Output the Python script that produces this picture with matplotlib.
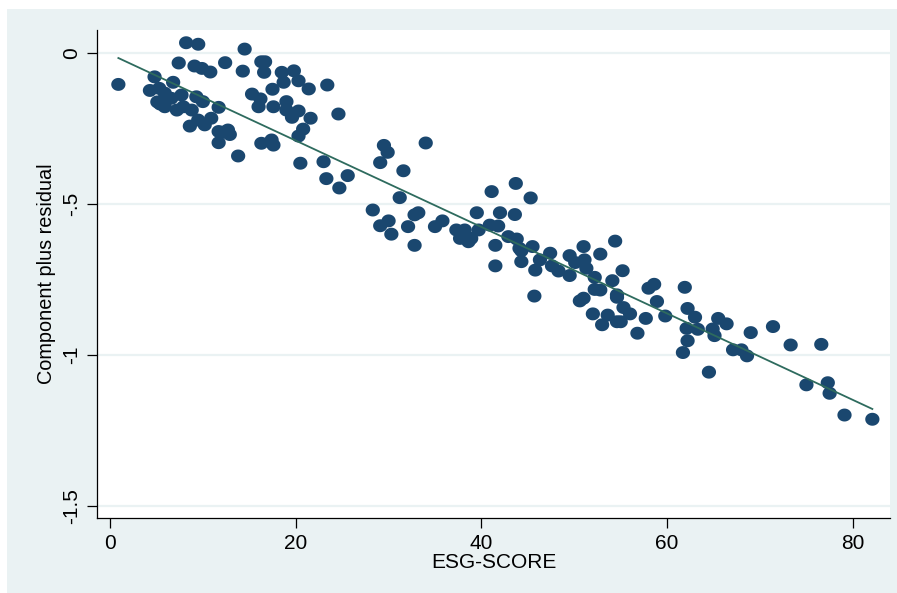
import matplotlib
matplotlib.use("Agg")
import matplotlib.pyplot as plt
from matplotlib.path import Path
import numpy as np

plt.rcParams['font.family'] = ['Liberation Sans', 'DejaVu Sans']

esg_score = [
    8.2, 9.5, 7.4, 9.1, 9.9, 10.8, 12.4, 0.9, 4.8, 6.8, 4.3, 5.3, 5.9, 6.6, 7.7,
    5.4, 5.9, 7.2, 7.9, 8.8, 9.3, 10.0, 11.7, 8.6, 9.5, 10.2, 10.9, 11.7, 12.7,
    12.9, 11.7, 13.8, 5.1, 12.2,
    14.5, 16.3, 16.7, 14.3, 16.6, 18.5, 19.8, 18.7, 20.3, 21.4, 23.4, 17.5, 15.3,
    16.2, 16.0, 17.6, 19.0, 19.0, 19.6, 20.3, 21.6, 24.6, 20.8, 20.3, 16.3, 17.4,
    17.6, 20.5, 23.0, 23.3, 25.6, 24.7,
    29.5, 29.9, 34.0, 29.1, 31.6, 31.2, 28.3, 29.1, 30.0, 30.3, 32.1, 32.8, 33.2,
    32.8, 35.0, 35.8, 37.3, 38.2, 37.7, 38.6, 38.9, 38.0, 39.5, 39.7, 41.1, 42.0,
    40.9, 41.8, 41.5, 41.5,
    43.7, 45.3, 43.6, 42.9, 43.8, 44.1, 44.3, 45.5, 44.3, 46.3, 47.4, 47.6, 48.3,
    45.8, 49.5, 50.1, 49.5, 51.0, 51.1, 51.3, 52.8, 54.4, 55.2, 52.2, 54.1, 52.2,
    52.8, 54.6, 54.6, 50.6, 51.0, 45.7, 55.3, 56.0, 52.0, 53.6, 53.0, 54.6, 55.0,
    58.0, 58.6, 61.9, 58.9, 57.7, 59.8, 56.8, 62.2, 63.0, 62.1, 63.3, 62.2, 61.7,
    65.5, 66.4, 64.9, 65.1, 64.5, 67.1, 68.0, 68.6, 69.0, 71.4,
    73.3, 76.6, 75.0, 77.3, 77.5, 79.1, 82.1,
]
cpr = [
    0.034, 0.029, -0.033, -0.043, -0.051, -0.063, -0.032, -0.104, -0.079, -0.097,
    -0.124, -0.117, -0.133, -0.150, -0.139, -0.169, -0.178, -0.189, -0.178, -0.189,
    -0.145, -0.161, -0.180, -0.242, -0.222, -0.238, -0.216, -0.260, -0.255, -0.270,
    -0.297, -0.341, -0.162, -0.262,
    0.013, -0.029, -0.029, -0.060, -0.064, -0.064, -0.059, -0.097, -0.092, -0.119,
    -0.106, -0.120, -0.136, -0.152, -0.178, -0.178, -0.161, -0.189, -0.213, -0.192,
    -0.216, -0.202, -0.252, -0.275, -0.299, -0.288, -0.305, -0.365, -0.360, -0.416,
    -0.406, -0.447,
    -0.306, -0.329, -0.298, -0.363, -0.390, -0.479, -0.520, -0.572, -0.556, -0.600,
    -0.575, -0.536, -0.529, -0.637, -0.575, -0.556, -0.586, -0.586, -0.614, -0.625,
    -0.614, -0.603, -0.529, -0.586, -0.459, -0.529, -0.570, -0.573, -0.637, -0.705,
    -0.432, -0.480, -0.535, -0.608, -0.616, -0.647, -0.655, -0.641, -0.691, -0.685,
    -0.663, -0.705, -0.722, -0.719, -0.671, -0.694, -0.737, -0.641, -0.685, -0.713,
    -0.666, -0.623, -0.721, -0.743, -0.754, -0.783, -0.785, -0.801, -0.809, -0.821,
    -0.812, -0.805, -0.843, -0.864, -0.864, -0.868, -0.900, -0.890, -0.890,
    -0.779, -0.766, -0.776, -0.823, -0.879, -0.871, -0.928, -0.846, -0.875, -0.912,
    -0.915, -0.953, -0.992, -0.879, -0.897, -0.914, -0.936, -1.057, -0.983, -0.983,
    -1.003, -0.926, -0.906,
    -0.967, -0.965, -1.099, -1.092, -1.127, -1.199, -1.213,
]

# fitted line
fit_slope = -0.014315
fit_intercept = -0.0037

x_ticks = [0, 20, 40, 60, 80]
x_tick_labels = ["0", "20", "40", "60", "80"]
y_ticks = [0, -0.5, -1, -1.5]
y_tick_labels = ["0", "-.5", "-1", "-1.5"]

W, H = 897, 593
fig = plt.figure(figsize=(W / 100, H / 100), dpi=100)
fig.patch.set_facecolor("white")

bg = fig.add_axes([7 / W, 0, 1 - 7 / W, 1 - 9 / H], zorder=0)
bg.set_facecolor("#EAF2F3")
bg.set_xticks([])
bg.set_yticks([])
for s in bg.spines.values():
    s.set_visible(False)

ax = fig.add_axes([97 / W, 1 - 518 / H, (890 - 97) / W, (518 - 30) / H], zorder=1)
ax.set_facecolor("white")

# slightly wide ellipse marker (reference markers are stretched horizontally)
t = np.linspace(0, 2 * np.pi, 60)
ell = Path(np.column_stack([1.1 * np.cos(t), np.sin(t)]), closed=True)

xs = np.array(esg_score)
ys = np.array(cpr)
xline = np.array([xs.min(), xs.max()])

ax.scatter(xs, ys, s=105, marker=ell, color="#1A476F", edgecolors="none", zorder=3)
ax.plot(xline, fit_intercept + fit_slope * xline, color="#2E6B5E", lw=1.3, zorder=4)

ax.set_xlim(-1.4, 84.0)
ax.set_ylim(-1.540, 0.0762)
ax.set_xticks(x_ticks)
ax.set_xticklabels(x_tick_labels)
ax.set_yticks(y_ticks)
ax.set_yticklabels(y_tick_labels, rotation=90, va="center")
ax.grid(axis="y", color="#EAF2F3", lw=1.6, zorder=1)
ax.set_axisbelow(True)

for s in ["top", "right"]:
    ax.spines[s].set_visible(False)
for s in ["left", "bottom"]:
    ax.spines[s].set_color("black")
    ax.spines[s].set_linewidth(0.9)

ax.tick_params(axis="both", direction="out", length=7.2, width=0.9, colors="black",
               labelsize=15)
ax.tick_params(axis="x", pad=4)
ax.tick_params(axis="y", pad=4)
ax.set_xlabel("ESG-SCORE", fontsize=15, labelpad=0)
ax.set_ylabel("Component plus residual", fontsize=14.3, labelpad=5)

fig.savefig("out.png", dpi=100)
